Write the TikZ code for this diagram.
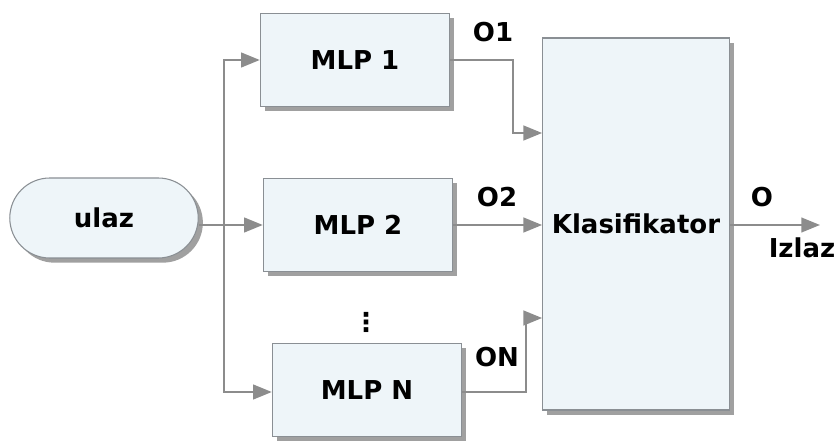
\documentclass[tikz,border=0pt]{standalone}
\usepackage{fontspec}
\setmainfont{DejaVu Sans}
\usetikzlibrary{shapes.misc,shadows,arrows.meta}
\definecolor{boxfill}{HTML}{EEF5F9}
\definecolor{boxline}{HTML}{8A8F94}
\definecolor{wire}{HTML}{8C8C8C}
\tikzset{
  blk/.style={draw=boxline, fill=boxfill, line width=0.8pt, minimum width=142pt, minimum height=70pt,
     font=\bfseries\fontsize{19.5}{23}\selectfont, drop shadow={shadow xshift=3.5pt, shadow yshift=-3.5pt, opacity=0.75}},
  wirep/.style={draw=wire, line width=1.6pt, -{Triangle[length=14pt,width=11pt]}},
  wiren/.style={draw=wire, line width=1.6pt},
  lbl/.style={font=\bfseries\fontsize{19.5}{23}\selectfont}
}
\begin{document}
\begin{tikzpicture}[x=0.75pt,y=-0.75pt]
\useasboundingbox (0,0) rectangle (835,441);
\node[blk, rounded rectangle, minimum width=148pt, minimum height=60pt] (ulaz) at (104,218) {ulaz};
\node[blk] (m1) at (355,60) {MLP 1};
\node[blk] (m2) at (358,225) {MLP 2};
\node[blk] (mn) at (367,390) {MLP N};
\node[blk, minimum width=140pt, minimum height=279pt] (kl) at (636,224) {Klasifikator};
\coordinate (br) at (224,225);
\coordinate (bt) at (224,60);
\coordinate (bb) at (224,392);
\coordinate (out) at (820,225);
\draw[wiren] (ulaz.east |- br) -- (br);
\draw[wirep] (br) -- (m2.west |- br);
\draw[wirep] (br) -- (bt) -- (m1.west |- bt);
\draw[wirep] (br) -- (bb) -- (mn.west |- bb);
\draw[wirep] (m1.east) -- (513,60) -- (513,133) -- (kl.west |- 0,133);
\draw[wirep] (m2.east) -- (kl.west |- m2.east);
\draw[wirep] (mn.east |- bb) -- (526,392) -- (526,318) -- (kl.west |- 0,318);
\draw[wirep] (kl.east |- out) -- (out);
\node[lbl] (o1) at (493,32) {O1};
\node[lbl] (o2) at (497,197) {O2};
\node[lbl] (on) at (497,357) {ON};
\node[lbl] (o) at (762,197) {O};
\node[lbl] (iz) at (802,248) {Izlaz};
\node[lbl] (dots) at (366,322) {⋮};
\end{tikzpicture}
\end{document}
